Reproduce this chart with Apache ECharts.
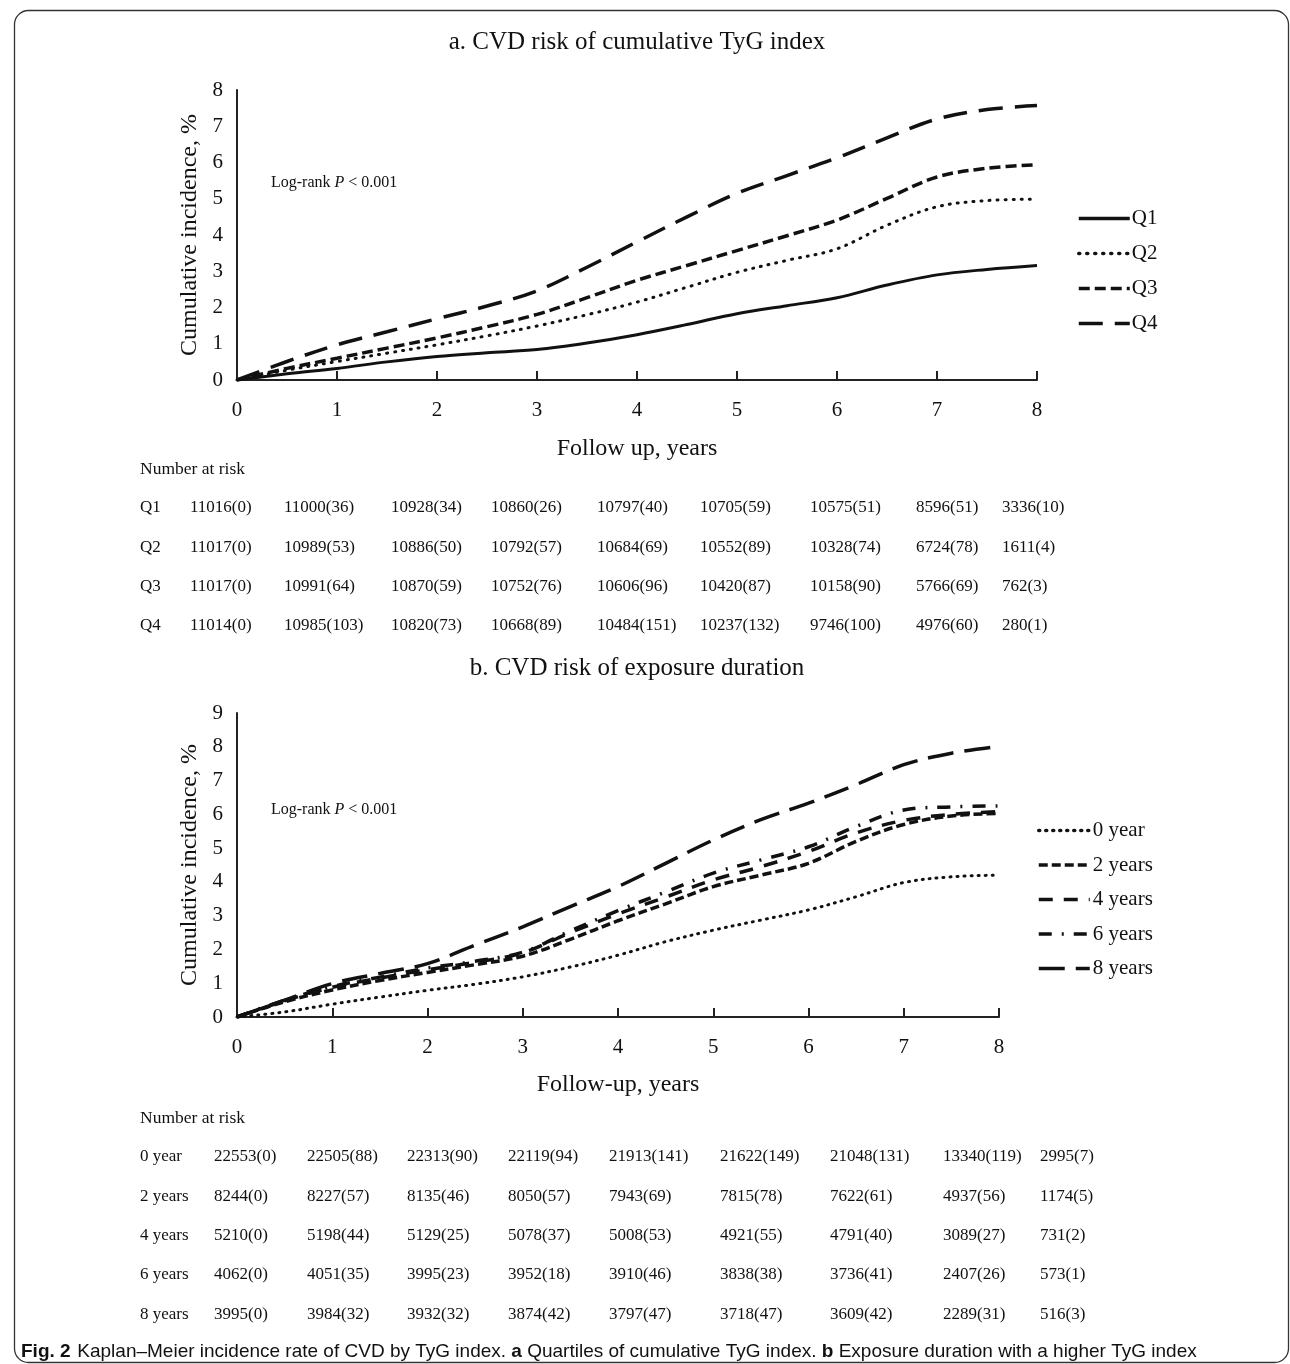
<!DOCTYPE html>
<html>
<head>
<meta charset="utf-8">
<script src="https://cdn.jsdelivr.net/npm/echarts@6/dist/echarts.min.js"></script>
<style>
html,body{margin:0;padding:0;background:#fff;}
#c{width:1290px;height:1364px;}
</style>
</head>
<body>
<div id="c"></div>
<script>
// ---- data ----
const years = [0,0.5,1,1.5,2,2.5,3,3.5,4,4.5,5,5.5,6,6.5,7,7.5,8];
const tickLabelsX = ['0','1','2','3','4','5','6','7','8'];

const namesA = ['Q1','Q2','Q3','Q4'];
const q1 = [0,0.17,0.32,0.50,0.65,0.75,0.84,1.02,1.25,1.53,1.83,2.05,2.27,2.62,2.90,3.05,3.16];
const q2 = [0,0.27,0.51,0.74,0.97,1.22,1.49,1.80,2.15,2.56,2.97,3.30,3.62,4.27,4.78,4.95,4.99];
const q3 = [0,0.32,0.60,0.88,1.16,1.47,1.81,2.27,2.75,3.16,3.57,3.98,4.41,5.01,5.60,5.84,5.94];
const q4 = [0,0.51,0.97,1.33,1.69,2.04,2.46,3.11,3.81,4.50,5.15,5.64,6.13,6.68,7.20,7.46,7.57];

const namesB = ['0 year','2 years','4 years','6 years','8 years'];
const y0 = [0,0.15,0.38,0.59,0.79,0.97,1.19,1.48,1.83,2.23,2.57,2.87,3.17,3.56,3.98,4.15,4.20];
const y2 = [0,0.45,0.80,1.08,1.32,1.55,1.80,2.30,2.85,3.35,3.86,4.20,4.55,5.20,5.70,5.95,6.03];
const y4 = [0,0.48,0.88,1.15,1.40,1.62,1.90,2.50,3.05,3.55,4.06,4.45,4.90,5.45,5.82,6.00,6.08];
const y6 = [0,0.50,0.90,1.18,1.45,1.65,1.92,2.55,3.15,3.70,4.26,4.65,5.04,5.64,6.13,6.22,6.25];
const y8 = [0,0.50,0.99,1.29,1.58,2.13,2.67,3.27,3.86,4.55,5.24,5.84,6.33,6.88,7.47,7.81,8.01];

const riskLabelsA = ['Q1','Q2','Q3','Q4'];
const riskA = [
 ['11016(0)','11000(36)','10928(34)','10860(26)','10797(40)','10705(59)','10575(51)','8596(51)','3336(10)'],
 ['11017(0)','10989(53)','10886(50)','10792(57)','10684(69)','10552(89)','10328(74)','6724(78)','1611(4)'],
 ['11017(0)','10991(64)','10870(59)','10752(76)','10606(96)','10420(87)','10158(90)','5766(69)','762(3)'],
 ['11014(0)','10985(103)','10820(73)','10668(89)','10484(151)','10237(132)','9746(100)','4976(60)','280(1)']
];
const riskLabelsB = ['0 year','2 years','4 years','6 years','8 years'];
const riskB = [
 ['22553(0)','22505(88)','22313(90)','22119(94)','21913(141)','21622(149)','21048(131)','13340(119)','2995(7)'],
 ['8244(0)','8227(57)','8135(46)','8050(57)','7943(69)','7815(78)','7622(61)','4937(56)','1174(5)'],
 ['5210(0)','5198(44)','5129(25)','5078(37)','5008(53)','4921(55)','4791(40)','3089(27)','731(2)'],
 ['4062(0)','4051(35)','3995(23)','3952(18)','3910(46)','3838(38)','3736(41)','2407(26)','573(1)'],
 ['3995(0)','3984(32)','3932(32)','3874(42)','3797(47)','3718(47)','3609(42)','2289(31)','516(3)']
];

const titleA = 'a. CVD risk of cumulative TyG index';
const titleB = 'b. CVD risk of exposure duration';

// ---- build ----
const SERIF = '"Liberation Serif","DejaVu Serif",serif';
const SANS = '"Liberation Sans Narrow","Liberation Sans",sans-serif';
const pairs = arr => years.map((x,i)=>[x,arr[i]]);

const dashA = {
  'Q1': {type:'solid', width:3},
  'Q2': {type:[1,7], width:3, cap:'round'},
  'Q3': {type:[11,5], width:3.5},
  'Q4': {type:[24,12], width:3.5}
};
const dashB = {
  '0 year': {type:[1,6], width:3, cap:'round'},
  '2 years': {type:[9,4], width:3.5},
  '4 years': {type:[14,11], width:3.5},
  '6 years': {type:[13,10,2,10], width:3.5},
  '8 years': {type:[26,11], width:3.5}
};
const seriesA = [q1,q2,q3,q4];
const seriesB = [y0,y2,y4,y6,y8];

function axisX(gi, name, nameGap){
  return {type:'value', gridIndex:gi, min:0, max:8, interval:1,
    name:name, nameLocation:'middle', nameGap:nameGap,
    nameTextStyle:{fontFamily:SERIF, fontSize:24, color:'#111'},
    axisLine:{lineStyle:{color:'#222', width:2}},
    axisTick:{show:true, inside:true, length:9, lineStyle:{color:'#222', width:2}},
    axisLabel:{fontFamily:SERIF, fontSize:21, color:'#111', margin:20,
      formatter:v=>tickLabelsX[Math.round(v)]},
    splitLine:{show:false}};
}
function axisY(gi, max, nameGap){
  return {type:'value', gridIndex:gi, min:0, max:max, interval:1,
    name:'Cumulative incidence, %', nameLocation:'middle', nameGap:nameGap, nameRotate:90,
    nameTextStyle:{fontFamily:SERIF, fontSize:24, color:'#111'},
    axisLine:{show:true, lineStyle:{color:'#222', width:2}},
    axisTick:{show:false},
    axisLabel:{fontFamily:SERIF, fontSize:21, color:'#111', margin:14},
    splitLine:{show:false}};
}

const series = [];
namesA.forEach((n,i)=>series.push({name:n, type:'line', xAxisIndex:0, yAxisIndex:0,
  data:pairs(seriesA[i]), smooth:0.35, symbol:'none', silent:true,
  lineStyle:Object.assign({color:'#111'}, dashA[n]), itemStyle:{color:'#111'}}));
namesB.forEach((n,i)=>series.push({name:n, type:'line', xAxisIndex:1, yAxisIndex:1,
  data:pairs(seriesB[i]), smooth:0.35, symbol:'none', silent:true,
  lineStyle:Object.assign({color:'#111'}, dashB[n]), itemStyle:{color:'#111'}}));

const graphics = [];
// frame
graphics.push({type:'rect', shape:{x:14.5, y:10.5, width:1274, height:1352, r:14},
  style:{fill:null, stroke:'#333', lineWidth:1.3}, silent:true, z:-1});
// titles
graphics.push({type:'text', x:637, y:42, style:{text:titleA, font:'25px '+SERIF, fill:'#111', textAlign:'center', textVerticalAlign:'middle'}});
graphics.push({type:'text', x:637, y:668, style:{text:titleB, font:'25px '+SERIF, fill:'#111', textAlign:'center', textVerticalAlign:'middle'}});
// log-rank
function logRank(x,y){
  graphics.push({type:'text', x:x, y:y, style:{
    text:'{n|Log-rank }{i|P}{n| < 0.001}',
    rich:{n:{fontFamily:SERIF, fontSize:16, fill:'#111'}, i:{fontFamily:SERIF, fontSize:16, fontStyle:'italic', fill:'#111'}},
    textVerticalAlign:'middle'}});
}
logRank(271,183);
logRank(271,810);
// tables
function table(title, ty, labels, rows, rowY0, rowGap, labelX, colX){
  graphics.push({type:'text', x:140, y:ty, style:{text:title, font:'17.5px '+SERIF, fill:'#111', textVerticalAlign:'middle'}});
  labels.forEach((lab,r)=>{
    const y = rowY0 + r*rowGap;
    graphics.push({type:'text', x:labelX, y:y, style:{text:lab, font:'17px '+SERIF, fill:'#111', textVerticalAlign:'middle'}});
    rows[r].forEach((v,c)=>{
      graphics.push({type:'text', x:colX[c], y:y, style:{text:v, font:'17px '+SERIF, fill:'#111', textVerticalAlign:'middle'}});
    });
  });
}
table('Number at risk', 469, riskLabelsA, riskA, 508, 39.3, 140, [190,284,391,491,597,700,810,916,1002]);
table('Number at risk', 1118, riskLabelsB, riskB, 1157, 39.3, 140, [214,307,407,508,609,720,830,943,1040]);
// caption
graphics.push({type:'text', x:21, y:1352, style:{
  text:'{b|Fig. 2}  {n|Kaplan–Meier incidence rate of CVD by TyG index. }{b|a}{n| Quartiles of cumulative TyG index. }{b|b}{n| Exposure duration with a higher TyG index}',
  rich:{b:{fontFamily:SANS, fontWeight:'bold', fontSize:19, fill:'#111'},
        n:{fontFamily:SANS, fontSize:19, fill:'#111'}},
  textVerticalAlign:'middle'}});

const legendCommon = {orient:'vertical', itemWidth:51, itemHeight:14,
  itemStyle:{opacity:0, borderWidth:0},
  lineStyle:{width:3.5},
  textStyle:{fontFamily:SERIF, fontSize:21, color:'#111'}};

const option = {
  animation:false,
  backgroundColor:'#fff',
  grid:[
    {left:237, top:90, width:800, height:290},
    {left:237, top:713, width:762, height:304}
  ],
  xAxis:[axisX(0,'Follow up, years',57), axisX(1,'Follow-up, years',56)],
  yAxis:[axisY(0,8,34), axisY(1,9,34)],
  legend:[
    Object.assign({}, legendCommon, {data:namesA, left:1072, top:203, itemGap:14,
      textStyle:Object.assign({}, legendCommon.textStyle, {padding:[0,0,0,-3]})}),
    Object.assign({}, legendCommon, {data:namesB, left:1032, top:815, itemGap:13.5,
      textStyle:Object.assign({}, legendCommon.textStyle, {padding:[0,0,0,-2]})})
  ],
  series:series,
  graphic:graphics
};
const chart = echarts.init(document.getElementById('c'), null, {renderer:'canvas'});
chart.setOption(option);
</script>
</body>
</html>
